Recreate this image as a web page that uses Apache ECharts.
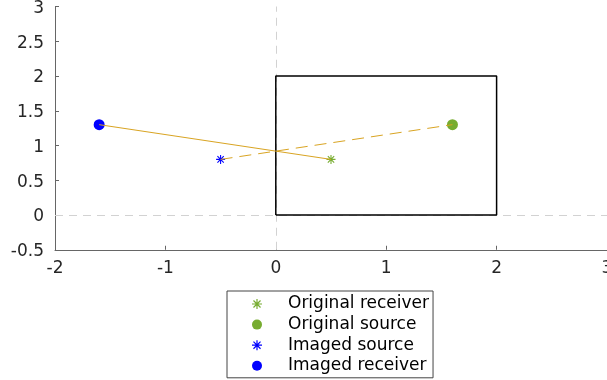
<!DOCTYPE html>
<html>
<head>
<meta charset="utf-8">
<script src="https://cdn.jsdelivr.net/npm/echarts@6/dist/echarts.min.js"></script>
<style>
  html, body { margin: 0; padding: 0; background: #fff; }
  #chart { width: 607px; height: 380px; }
</style>
</head>
<body>
<div id="chart"></div>
<script>
// Point positions (x, y)
const originalReceiver = [0.5, 0.8];
const originalSource = [1.6, 1.3];
const imagedSource = [-0.5, 0.8];
const imagedReceiver = [-1.6, 1.3];

// Room outline corners
const roomX = [0, 2, 2, 0, 0];
const roomY = [0, 0, 2, 2, 0];

// Axis ranges: [min, max, interval]
const xRange = [-2, 3, 1];
const yRange = [-0.5, 3, 0.5];

const seriesNames = ['Original receiver', 'Original source', 'Imaged source', 'Imaged receiver'];

const GREEN = '#77AC30';
const BLUE = '#0000FF';
const GOLD = '#D9A422';
const FONT = '"DejaVu Sans", Verdana, sans-serif';

// Eight-spoke asterisk marker built from thin filled bars
const ASTERISK = 'path://M8.8,0H11.2V20H8.8Z M0,8.8H20V11.2H0Z ' +
  'M2.1,3.8L3.8,2.1L17.9,16.2L16.2,17.9Z M16.2,2.1L17.9,3.8L3.8,17.9L2.1,16.2Z';

const axisColor = '#666';
const labelColor = '#262626';

const chart = echarts.init(document.getElementById('chart'), null, { renderer: 'canvas' });

chart.setOption({
  animation: false,
  backgroundColor: '#fff',
  grid: { left: 55, right: 0, top: 6.5, bottom: 130.25, outerBoundsMode: 'none', containLabel: false },
  xAxis: {
    type: 'value', min: xRange[0], max: xRange[1], interval: xRange[2],
    axisLine: { show: true, onZero: false, lineStyle: { color: axisColor, width: 1 } },
    axisTick: { show: true, inside: true, length: 4, lineStyle: { color: axisColor } },
    axisLabel: { color: labelColor, fontSize: 17, fontFamily: FONT, margin: 10 },
    splitLine: { show: false }
  },
  yAxis: {
    type: 'value', min: yRange[0], max: yRange[1], interval: yRange[2],
    axisLine: { show: true, onZero: false, lineStyle: { color: axisColor, width: 1 } },
    axisTick: { show: true, inside: true, length: 4, lineStyle: { color: axisColor } },
    axisLabel: {
      margin: 11,
      formatter: '{v|{value}}',
      rich: { v: { color: labelColor, fontSize: 17, fontFamily: FONT, padding: [4, 0, 0, 0] } }
    },
    splitLine: { show: false }
  },
  legend: {
    data: seriesNames,
    orient: 'vertical',
    left: 227, top: 291,
    padding: [4.5, 4, 3.5, 25],
    itemGap: 3.6,
    itemWidth: 52, itemHeight: 10,
    borderColor: '#444', borderWidth: 1,
    textStyle: { color: '#000', fontSize: 17, fontFamily: FONT, lineHeight: 17 }
  },
  series: [
    {
      // dashed zero lines, kept beneath the room outline
      type: 'line', data: [], z: 1, silent: true,
      markLine: {
        z: 1, silent: true, symbol: ['none', 'none'], label: { show: false },
        lineStyle: { type: [8, 6], color: '#d2d2d2', width: 1 },
        data: [{ xAxis: 0 }, { yAxis: 0 }]
      }
    },
    {
      name: 'room', type: 'line', z: 3,
      data: roomX.map((x, i) => [x, roomY[i]]),
      symbol: 'none', lineStyle: { color: '#000', width: 1.5 }
    },
    {
      name: seriesNames[0], type: 'scatter', z: 4,
      data: [originalReceiver], symbol: ASTERISK, symbolSize: 9,
      itemStyle: { color: GREEN, opacity: 1 }
    },
    {
      name: seriesNames[1], type: 'scatter', z: 4,
      data: [originalSource], symbol: 'circle', symbolSize: 11,
      itemStyle: { color: GREEN, opacity: 1 }
    },
    {
      name: seriesNames[2], type: 'scatter', z: 4,
      data: [imagedSource], symbol: ASTERISK, symbolSize: 9,
      itemStyle: { color: BLUE, opacity: 1 }
    },
    {
      name: seriesNames[3], type: 'scatter', z: 4,
      data: [imagedReceiver], symbol: 'circle', symbolSize: 11,
      itemStyle: { color: BLUE, opacity: 1 }
    },
    {
      name: 'path direct', type: 'line', z: 5,
      data: [imagedReceiver, originalReceiver],
      symbol: 'none', lineStyle: { color: GOLD, width: 1 }
    },
    {
      name: 'path image', type: 'line', z: 5,
      data: [imagedSource, originalSource],
      symbol: 'none', lineStyle: { color: GOLD, width: 1, type: [12, 7] }
    }
  ]
});
</script>
</body>
</html>
